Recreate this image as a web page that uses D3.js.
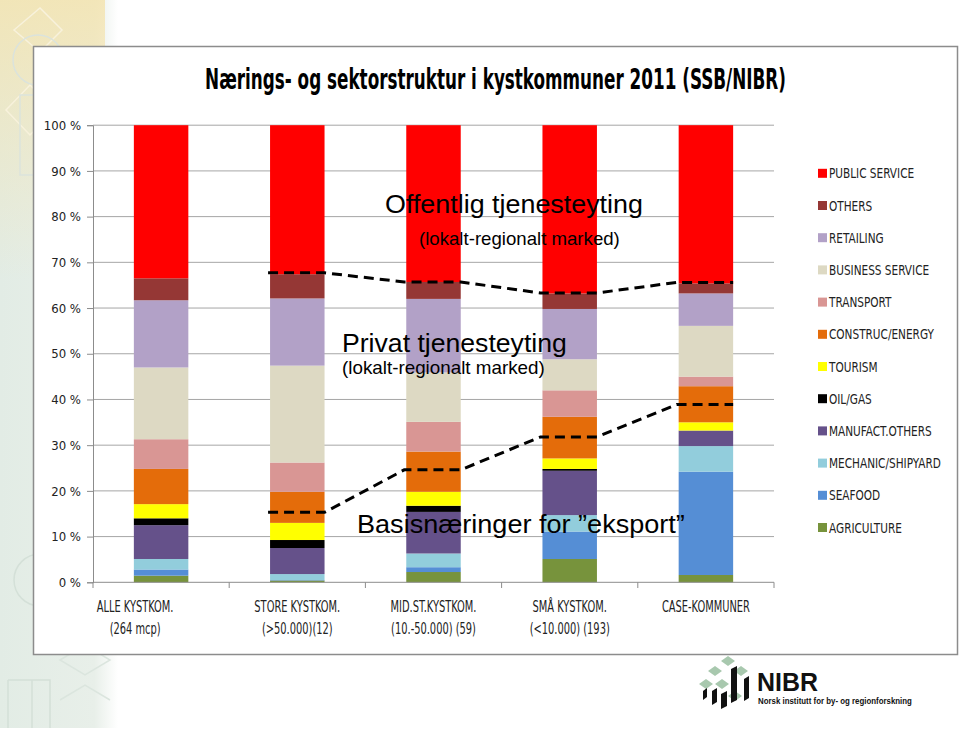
<!DOCTYPE html>
<html><head><meta charset="utf-8">
<script src="https://cdn.jsdelivr.net/npm/d3@7"></script>
<style>
html,body{margin:0;padding:0;background:#fff;}
svg{display:block;}
</style></head>
<body>
<svg id="chart" width="960" height="732"></svg>
<script>
// ---------- DATA ----------
const categories = ["ALLE KYSTKOM.", "STORE KYSTKOM.", "MID.ST.KYSTKOM.", "SMÅ KYSTKOM.", "CASE-KOMMUNER"];
const subLabels = ["(264 mcp)", "(>50.000)(12)", "(10.-50.000) (59)", "(<10.000) (193)", ""];
// series listed bottom -> top
const seriesNames = ["AGRICULTURE","SEAFOOD","MECHANIC/SHIPYARD","MANUFACT.OTHERS","OIL/GAS","TOURISM","CONSTRUC/ENERGY","TRANSPORT","BUSINESS  SERVICE","RETAILING","OTHERS","PUBLIC SERVICE"];
const seriesColors = ["#77933c","#558ed5","#92cddc","#65518a","#000000","#ffff00","#e46c0a","#d99694","#ddd9c3","#b2a1c7","#953735","#ff0000"];
const agriculture = [1.45, 0.4, 2.25, 5.1, 1.6];
const seafood     = [1.35, 0.1, 1.05, 6.0, 22.6];
const mechanic    = [2.3, 1.3, 3.0, 3.6, 5.6];
const manufact    = [7.4, 5.7, 9.1, 9.7, 3.4];
const oilgas      = [1.5, 1.75, 1.35, 0.4, 0.0];
const tourism     = [3.1, 3.75, 3.05, 2.3, 1.8];
const construc    = [7.7, 6.8, 8.8, 9.1, 7.9];
const transport   = [6.5, 6.4, 6.5, 5.8, 2.1];
const business    = [15.7, 21.2, 10.8, 6.8, 11.1];
const retailing   = [14.7, 14.7, 16.1, 11.0, 7.1];
const others      = [4.8, 5.3, 3.7, 3.4, 2.2];
const publicSvc   = [33.5, 32.6, 34.3, 36.8, 34.6];
const seriesValues = [agriculture, seafood, mechanic, manufact, oilgas, tourism, construc, transport, business, retailing, others, publicSvc];
// dashed guide lines (level in %, per category; null = not drawn)
const offentligLine = [null, 67.7, 65.7, 63.3, 65.6];
const basisLine     = [null, 15.3, 24.6, 31.8, 38.9];
const yTicks = [0,10,20,30,40,50,60,70,80,90,100];

// ---------- SETUP ----------
const svg = d3.select("#chart");
const NARROW = "'Liberation Sans Narrow','Arial Narrow','DejaVu Sans Condensed',sans-serif";
const SANS = "'Liberation Sans',Arial,Helvetica,sans-serif";
// horizontally scale a text element (keeps glyph height, narrows width)
function scaleText(node, s){
  const t = d3.select(node);
  const x0 = +t.attr("x") || 0, y0 = +t.attr("y") || 0;
  t.attr("x",0).attr("y",0).attr("transform",`translate(${x0},${y0}) scale(${s},1)`);
}
function fitWidth(sel, w){ sel.each(function(){ const n=this.getComputedTextLength(); if(n>0) scaleText(this, w/n); }); }
function squeezeBy(sel, refNode, w){
  const n = refNode.getComputedTextLength(); const s = w/n;
  sel.each(function(){ scaleText(this, s); });
}

// background decoration (slide template, left strip)
const defs = svg.append("defs");
const g1 = defs.append("linearGradient").attr("id","strip").attr("x1","0").attr("x2","1").attr("y1","0").attr("y2","0");
g1.append("stop").attr("offset","0").attr("stop-color","#e2ece5");
g1.append("stop").attr("offset","0.8").attr("stop-color","#e8efe9");
g1.append("stop").attr("offset","1").attr("stop-color","#ffffff");
const g2 = defs.append("linearGradient").attr("id","warm").attr("x1","0").attr("x2","0").attr("y1","0").attr("y2","1");
g2.append("stop").attr("offset","0").attr("stop-color","#f4e4b0").attr("stop-opacity",0.85);
g2.append("stop").attr("offset","0.4").attr("stop-color","#f4e4b0").attr("stop-opacity",0.5);
g2.append("stop").attr("offset","1").attr("stop-color","#f4e4b0").attr("stop-opacity",0);
svg.append("rect").attr("x",0).attr("y",0).attr("width",118).attr("height",728).attr("fill","url(#strip)");
svg.append("rect").attr("x",0).attr("y",0).attr("width",105).attr("height",280).attr("fill","url(#warm)");
const deco = svg.append("g").attr("fill","none").attr("stroke","#f8f2dc").attr("stroke-width",1.5);
deco.append("path").attr("d","M14,30 L40,8 L62,30 L40,52 Z");
deco.append("path").attr("d","M6,110 L30,85 L55,110 L30,135 Z");
deco.append("circle").attr("cx",38).attr("cy",60).attr("r",25).attr("stroke","#dbe3dc");
deco.append("rect").attr("x",20).attr("y",95).attr("width",38).attr("height",80).attr("stroke","#dbe3dc");
deco.append("circle").attr("cx",40).attr("cy",580).attr("r",26).attr("stroke","#d4e0d8");
deco.append("path").attr("d","M8,680 L8,728 M32,680 L32,728 M8,680 L50,680 L50,728").attr("stroke","#d4e0d8");
deco.append("path").attr("d","M60,660 L85,645 L110,660 L85,675 Z M60,700 L85,685 L110,700").attr("stroke","#dbe5de");

// chart frame
svg.append("rect").attr("x",33.5).attr("y",46.5).attr("width",924).attr("height",608)
  .attr("fill","#fff").attr("stroke","#8c8c8c").attr("stroke-width",1.5);

// title
const title = svg.append("text").attr("x",495.5).attr("y",89).attr("text-anchor","middle")
  .attr("font-family",NARROW).attr("font-weight","bold").attr("font-size",28).attr("fill","#000")
  .text("Nærings- og sektorstruktur i kystkommuner 2011 (SSB/NIBR)");
fitWidth(title, 581);

// scales
const x = d3.scaleBand().domain(categories).range([93, 774]).paddingInner(0.6).paddingOuter(0.3);
const y = d3.scaleLinear().domain([0,100]).range([582.3, 125.2]);

// gridlines
svg.append("g").selectAll("line").data(yTicks.filter(d=>d>0)).join("line")
  .attr("x1",93).attr("x2",774).attr("y1",d=>y(d)).attr("y2",d=>y(d))
  .attr("stroke","#a6a6a6").attr("stroke-width",1);

// y axis
const yAxis = svg.append("g").attr("transform","translate(93,0)")
  .call(d3.axisLeft(y).tickValues(yTicks).tickSize(6).tickPadding(6).tickFormat(d=>d+" %"));
yAxis.select(".domain").attr("stroke","#8c8c8c");
yAxis.selectAll(".tick line").attr("stroke","#8c8c8c");
yAxis.selectAll(".tick text").attr("font-family",NARROW).attr("font-size",13).attr("fill","#222");

// stacked bars
const rows = categories.map((c,i)=>{ const o={cat:c}; seriesNames.forEach((s,k)=>o[s]=seriesValues[k][i]); return o; });
const stacked = d3.stack().keys(seriesNames)(rows);
const color = d3.scaleOrdinal().domain(seriesNames).range(seriesColors);
svg.append("g").selectAll("g").data(stacked).join("g").attr("fill",d=>color(d.key))
  .selectAll("rect").data(d=>d).join("rect")
  .attr("x",d=>x(d.data.cat)).attr("width",x.bandwidth())
  .attr("y",d=>y(d[1])).attr("height",d=>Math.max(0,y(d[0])-y(d[1])));

// x axis
const xAxisG = svg.append("g");
xAxisG.append("line").attr("x1",93).attr("x2",774).attr("y1",582.3).attr("y2",582.3).attr("stroke","#8c8c8c");
const bounds = d3.range(categories.length+1).map(i=>93 + i*x.step());
xAxisG.selectAll("line.t").data(bounds).join("line").attr("class","t")
  .attr("x1",d=>d).attr("x2",d=>d).attr("y1",582.3).attr("y2",588).attr("stroke","#8c8c8c");
const labelShift = i => i===0 ? -26 : 0;
const xl1 = svg.append("g").selectAll("text").data(categories).join("text")
  .attr("x",(d,i)=>x(d)+x.bandwidth()/2+labelShift(i)).attr("y",612).attr("text-anchor","middle")
  .attr("font-family",NARROW).attr("font-size",15).attr("fill","#222").text(d=>d);
const xl2 = svg.append("g").selectAll("text").data(subLabels).join("text")
  .attr("x",(d,i)=>x(categories[i])+x.bandwidth()/2+labelShift(i)).attr("y",634).attr("text-anchor","middle")
  .attr("font-family",NARROW).attr("font-size",15).attr("fill","#222").text(d=>d);
const xRef = xl1.nodes()[1];
const xScaleW = 86 / xRef.getComputedTextLength();
xl1.each(function(){ scaleText(this, xScaleW); });
xl2.each(function(){ scaleText(this, xScaleW); });

// legend (top = PUBLIC SERVICE)
const legendOrder = seriesNames.slice().reverse();
const lg = svg.append("g").selectAll("g").data(legendOrder).join("g")
  .attr("transform",(d,i)=>`translate(818,${173.3+i*32.2})`);
lg.append("rect").attr("x",0).attr("y",-4.5).attr("width",9).attr("height",9).attr("fill",d=>color(d));
const lt = lg.append("text").attr("x",11).attr("y",5).attr("font-family",NARROW).attr("font-size",14.5)
  .attr("fill","#222").text(d=>d);
const mechNode = lt.filter(d=>d==="MECHANIC/SHIPYARD").node();
squeezeBy(lt, mechNode, 112);

// dashed guide lines
function guide(levels){
  const pts = [];
  levels.forEach((v,i)=>{ if(v!=null){ pts.push([x(categories[i])-2, y(v)]); pts.push([x(categories[i])+x.bandwidth(), y(v)]); }});
  svg.append("path").attr("d",d3.line()(pts)).attr("fill","none").attr("stroke","#000")
    .attr("stroke-width",3).attr("stroke-dasharray","10,6");
}
guide(offentligLine);
guide(basisLine);

// annotations
function ann(txt, xx, yy, fs, w){
  const t = svg.append("text").attr("x",xx).attr("y",yy).attr("font-family",SANS).attr("font-size",fs)
    .attr("fill","#000").text(txt);
  fitWidth(t, w);
}
ann("Offentlig tjenesteyting", 385, 213, 26, 258);
ann("(lokalt-regionalt marked)", 419, 244.5, 17.5, 201);
ann("Privat tjenesteyting", 342, 351.5, 26, 225);
ann("(lokalt-regionalt marked)", 342, 373.5, 17.5, 203);
ann("Basisnæringer for \u201Deksport\u201D", 357, 533, 26, 328);

// NIBR logo
const logo = svg.append("g");
const lgreen = "#a8c8ae";
const dia = (cx,cy)=>`M${cx-7},${cy} L${cx},${cy-5} L${cx+7},${cy} L${cx},${cy+5} Z`;
[[728,661],[715,671],[741,671],[722,684],[706,684],[735,696]].forEach(p=>logo.append("path").attr("d",dia(p[0],p[1])).attr("fill",lgreen));
[[731,666,6,34],[744,676,5,22],[712,688,5,14],[721,691,6,15],[703,688,4,9]].forEach(r=>
  logo.append("path").attr("d",`M${r[0]},${r[1]+3} L${r[0]+r[2]},${r[1]} L${r[0]+r[2]},${r[1]+r[3]} L${r[0]},${r[1]+r[3]+3} Z`).attr("fill","#111"));
const nibr = logo.append("text").attr("x",757).attr("y",691).attr("font-family",SANS).attr("font-weight","bold")
  .attr("font-size",25).attr("fill","#111").text("NIBR");
fitWidth(nibr, 61);
const nsub = logo.append("text").attr("x",758).attr("y",704).attr("font-family",SANS).attr("font-weight","bold")
  .attr("font-size",8.5).attr("fill","#111").text("Norsk institutt for by- og regionforskning");
fitWidth(nsub, 154);
</script>
</body></html>
